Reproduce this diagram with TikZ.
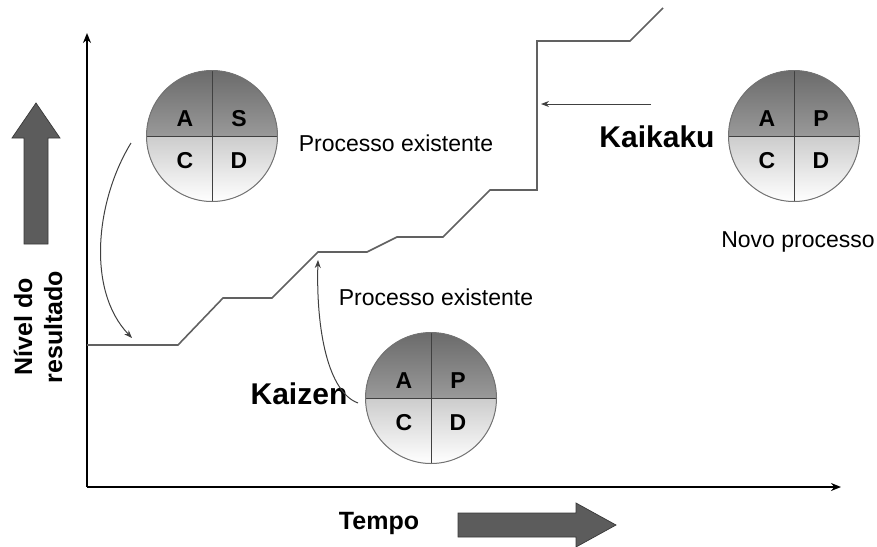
\documentclass[tikz,border=0pt]{standalone}
\usepackage{fontspec}
\setmainfont{Liberation Sans}
\usetikzlibrary{arrows.meta, positioning}

\begin{document}
\begin{tikzpicture}[x=1pt,y=-1pt,>={Stealth[round]},
        eixo/.style={line width=2.2pt,-{Stealth[length=10pt,width=8pt]}},
        degrau/.style={draw=black!62,line width=1.6pt,line join=miter},
        seta/.style={draw=black!75,line width=1pt,-{Stealth[length=8pt,width=6pt]}},
        bloco/.style={fill=black!64,draw=black!78,line width=0.7pt},
        ciclo/.style={circle,draw=black!55,line width=1pt,minimum size=131pt,inner sep=0pt,
          path picture={
            \fill[top color=black!58,bottom color=black!22] (path picture bounding box.north west) rectangle (path picture bounding box.east);
            \fill[top color=black!20,bottom color=white] (path picture bounding box.west) rectangle (path picture bounding box.south east);
            \draw[black!75,line width=1pt] (path picture bounding box.north) -- (path picture bounding box.south)
              (path picture bounding box.west) -- (path picture bounding box.east);}},
        letra/.style={on grid,font=\fontsize{23}{23}\selectfont\bfseries},
        rotulo/.style={font=\fontsize{23}{23}\selectfont},
        titulo/.style={font=\fontsize{30}{30}\selectfont\bfseries}]

      \useasboundingbox (0,0) rectangle (877,546);

      % eixos
      \coordinate (origem) at (87,487);
      \coordinate (topo)   at (87,33);
      \coordinate (fim)    at (841,487);
      \draw[eixo] (origem) -- (topo);
      \draw[eixo] (origem) -- (fim);

      % setas grandes
      \filldraw[bloco] (36,103) -- (60,138) -- (48,138) -- (48,244) -- (24,244) -- (24,138) -- (12,138) -- cycle;
      \filldraw[bloco] (616,525) -- (576,547) -- (576,537) -- (458,537) -- (458,513) -- (576,513) -- (576,503) -- cycle;

      % nivel do resultado
      \draw[degrau] (87,345) -- (178,345) -- (223,298) -- (272,298) -- (318,252) -- (367,252) -- (397,237)
        -- (443,237) -- (490,190) -- (537,190) -- (537,41) -- (630,41) -- (663,8);

      % ciclos PDCA
      \node[ciclo] (c1) at (212,136) {};
      \node[ciclo] (c2) at (431,398) {};
      \node[ciclo] (c3) at (794,136) {};
      \foreach \c/\a/\b/\cc/\d in {c1/A/S/C/D, c2/A/P/C/D, c3/A/P/C/D} {
        \node[letra,above left=17pt and 27pt of \c]  (\c-a) {\a};
        \node[letra,above right=17pt and 27pt of \c] (\c-b) {\b};
        \node[letra,below left=25pt and 27pt of \c]  (\c-c) {\cc};
        \node[letra,below right=25pt and 27pt of \c] (\c-d) {\d};
      }

      % textos
      \node[rotulo] (existente1) at (396,143) {Processo existente};
      \node[rotulo] (existente2) at (436,297) {Processo existente};
      \node[rotulo] (novo)       at (798,242) {Novo processo};
      \node[titulo] (kaikaku)    at (657,137) {Kaikaku};
      \node[titulo] (kaizen)     at (299,394) {Kaizen};
      \node[font=\fontsize{25}{25}\selectfont\bfseries] (tempo) at (379,523) {Tempo};
      \node[rotate=90,align=center,font=\fontsize{25}{30}\selectfont\bfseries] (nivel) at (38,327) {Nível do\\resultado};

      % setas finas
      \coordinate (s1) at (131,143);
      \coordinate (e1) at (132,338);
      \coordinate (s2) at (358,403);
      \coordinate (e2) at (318,260);
      \coordinate (s3) at (651,104);
      \coordinate (e3) at (541,104);
      \draw[seta] (s1) .. controls (96,200) and (86,290) .. (e1);
      \draw[seta] (s2) .. controls (328,392) and (316,330) .. (e2);
      \draw[seta] (s3) -- (e3);
    \end{tikzpicture}
\end{document}
